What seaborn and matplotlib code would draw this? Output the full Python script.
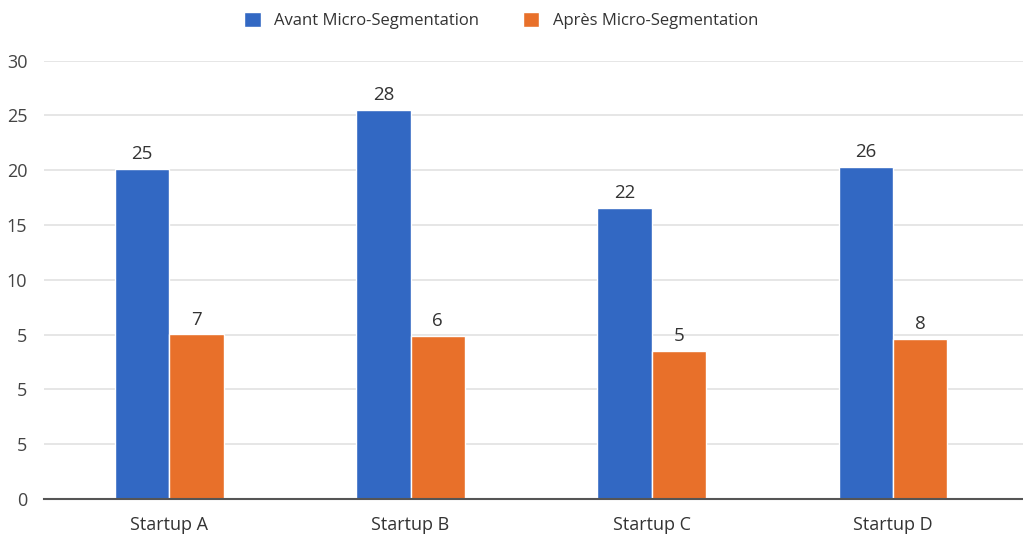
import pandas as pd
import matplotlib.pyplot as plt
import seaborn as sns

# data (bar heights are on the chart's own gridline scale)
startups = ["Startup A", "Startup B", "Startup C", "Startup D"]
series = ["Avant Micro-Segmentation", "Après Micro-Segmentation"]
avant_heights = [6.03, 7.10, 5.32, 6.06]
apres_heights = [3.01, 2.98, 2.70, 2.92]
avant_labels = ["25", "28", "22", "26"]
apres_labels = ["7", "6", "5", "8"]
ytick_labels = ["0", "5", "5", "5", "10", "15", "20", "25", "30"]

sns.set_style("white")
plt.rcParams['font.family'] = ['Open Sans', 'DejaVu Sans']

df = pd.DataFrame({
    'startup': startups * 2,
    'serie': [series[0]] * 4 + [series[1]] * 4,
    'valeur': avant_heights + apres_heights,
})

fig = plt.figure(figsize=(10.23, 5.37), dpi=100)
ax = fig.add_axes([0.043, 0.0708, 0.957, 0.8162])

sns.barplot(data=df, x='startup', y='valeur', hue='serie', hue_order=series,
            palette=['#3268C3', '#E8702A'], width=0.45, edgecolor='white',
            linewidth=1, saturation=1, ax=ax)

for cont, labs in zip(ax.containers, [avant_labels, apres_labels]):
    ax.bar_label(cont, labels=labs, padding=4, fontsize=13.5, color='#333333')

ax.set_ylim(0, 8.0)
ax.set_xlim(-0.52, 3.54)
ax.set_yticks(range(len(ytick_labels)))
ax.set_yticklabels(ytick_labels)
ax.set_xlabel("")
ax.set_ylabel("")
ax.yaxis.grid(True, color='#e2e2e2', linewidth=1.2)
ax.set_axisbelow(True)
for s in ['top', 'right', 'left']:
    ax.spines[s].set_visible(False)
ax.spines['bottom'].set_color('#555555')
ax.spines['bottom'].set_linewidth(1.5)
ax.tick_params(axis='y', length=0, pad=12, labelsize=13, labelcolor='#444444')
ax.tick_params(axis='x', length=0, pad=12, labelsize=13, labelcolor='#333333')

handles, labels = ax.get_legend_handles_labels()
ax.get_legend().remove()
fig.legend(handles, labels, loc='upper center', bbox_to_anchor=(0.49, 1.005),
           ncol=2, frameon=False, fontsize=12, handlelength=1.0,
           handleheight=1.0, columnspacing=2.6, labelcolor='#333333')

fig.savefig('out.png', dpi=100)
